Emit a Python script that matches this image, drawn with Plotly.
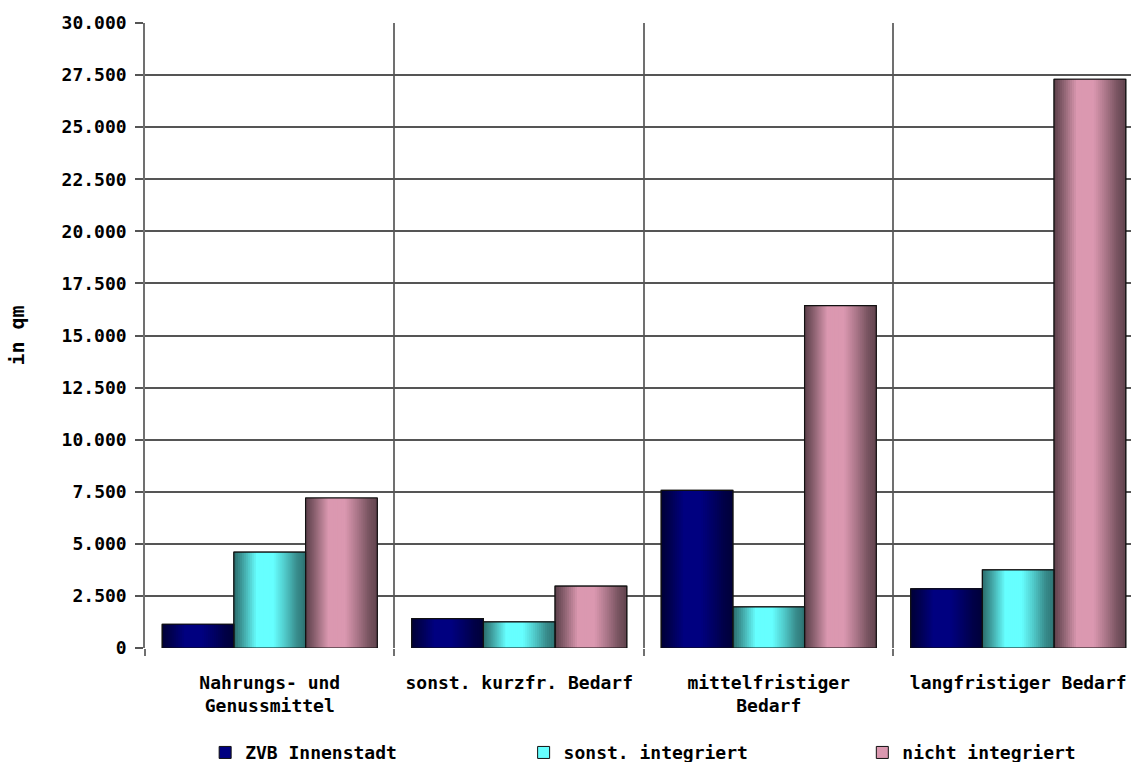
import plotly.graph_objects as go

categories = ["Nahrungs- und<br>Genussmittel", "sonst. kurzfr. Bedarf",
              "mittelfristiger<br>Bedarf", "langfristiger Bedarf"]
series_names = ["ZVB Innenstadt", "sonst. integriert", "nicht integriert"]
zvb_innenstadt = [1140, 1410, 7570, 2840]
sonst_integriert = [4600, 1250, 1970, 3750]
nicht_integriert = [7200, 2970, 16430, 27300]
tick_values = [0, 2500, 5000, 7500, 10000, 12500, 15000, 17500, 20000,
               22500, 25000, 27500, 30000]

series_values = [zvb_innenstadt, sonst_integriert, nicht_integriert]
base_colors = [(0, 0, 128), (102, 255, 255), (219, 152, 176)]
legend_ids = ["legend", "legend2", "legend3"]
legend_x = [0.0610, 0.3840, 0.7275]

FONT = "DejaVu Sans Mono"

# brightness profile across the bar (left -> right)
prof_t = [0.0, 0.12, 0.32, 0.55, 0.72, 0.88, 1.0]
prof_f = [0.42, 0.62, 1.0, 1.0, 0.78, 0.55, 0.45]


def shade(t):
    for i in range(len(prof_t) - 1):
        if prof_t[i] <= t <= prof_t[i + 1]:
            a = (t - prof_t[i]) / (prof_t[i + 1] - prof_t[i])
            return prof_f[i] + a * (prof_f[i + 1] - prof_f[i])
    return prof_f[-1]


group_width = 0.862
bar_w = group_width / 3
start = -group_width / 2
N = 36

fig = go.Figure()

# base traces (carry the legend)
for s, (name, vals, col) in enumerate(zip(series_names, series_values, base_colors)):
    fig.add_trace(go.Bar(
        x=categories, y=vals, name=name, legend=legend_ids[s],
        width=bar_w, offset=start + s * bar_w,
        marker=dict(color="rgb(%d,%d,%d)" % col, line=dict(color="#111", width=1)),
        showlegend=True, hoverinfo="skip"))

# gradient strips: each strip runs from its start to the right edge of the bar
for s, (vals, col) in enumerate(zip(series_values, base_colors)):
    sw = bar_w / N
    for k in range(N):
        t = (k + 0.5) / N
        f = shade(t)
        c = tuple(min(255, int(round(v * f))) for v in col)
        fig.add_trace(go.Bar(
            x=categories, y=vals, width=bar_w - k * sw,
            offset=start + s * bar_w + k * sw,
            marker=dict(color="rgb(%d,%d,%d)" % c, line=dict(width=0)),
            showlegend=False, hoverinfo="skip"))

# outlines
for s, vals in enumerate(series_values):
    fig.add_trace(go.Bar(
        x=categories, y=vals, width=bar_w, offset=start + s * bar_w,
        marker=dict(color="rgba(0,0,0,0)", line=dict(color="#111", width=1.2)),
        showlegend=False, hoverinfo="skip"))

legend_common = dict(orientation="h", xanchor="left", y=-0.138, yanchor="top",
                     font=dict(family=FONT, size=18, color="black", weight="bold"),
                     itemclick=False, itemdoubleclick=False, bgcolor="rgba(0,0,0,0)")

fig.update_layout(
    width=1131, height=762,
    barmode="overlay",
    separators=",.",
    paper_bgcolor="white", plot_bgcolor="white",
    margin=dict(l=145, r=0, t=23, b=114, autoexpand=False),
    font=dict(family=FONT, size=18, color="black", weight="bold"),
    legend=dict(x=legend_x[0], **legend_common),
    legend2=dict(x=legend_x[1], **legend_common),
    legend3=dict(x=legend_x[2], **legend_common),
    xaxis=dict(type="category", range=[-0.5, 3.452], tickson="boundaries",
               ticks="outside", ticklen=7, tickcolor="#707070", tickwidth=1.5,
               showgrid=True, gridcolor="#707070", gridwidth=1.5,
               showline=False, zeroline=False, ticklabelstandoff=22, tickangle=0,
               tickfont=dict(family=FONT, size=18, color="black", weight="bold")),
    yaxis=dict(range=[0, 30000], tickvals=tick_values, tickformat=",d",
               ticks="outside", ticklen=8, tickcolor="#555", tickwidth=1.5,
               showgrid=True, gridcolor="#555", gridwidth=1.5,
               showline=True, linecolor="#707070", linewidth=1.5,
               zeroline=False, ticklabelstandoff=5,
               tickfont=dict(family=FONT, size=18, color="black", weight="bold"),
               title=dict(text="in qm", standoff=32,
                          font=dict(family=FONT, size=20, color="black", weight="bold"))),
)

fig.write_html("out.html")
